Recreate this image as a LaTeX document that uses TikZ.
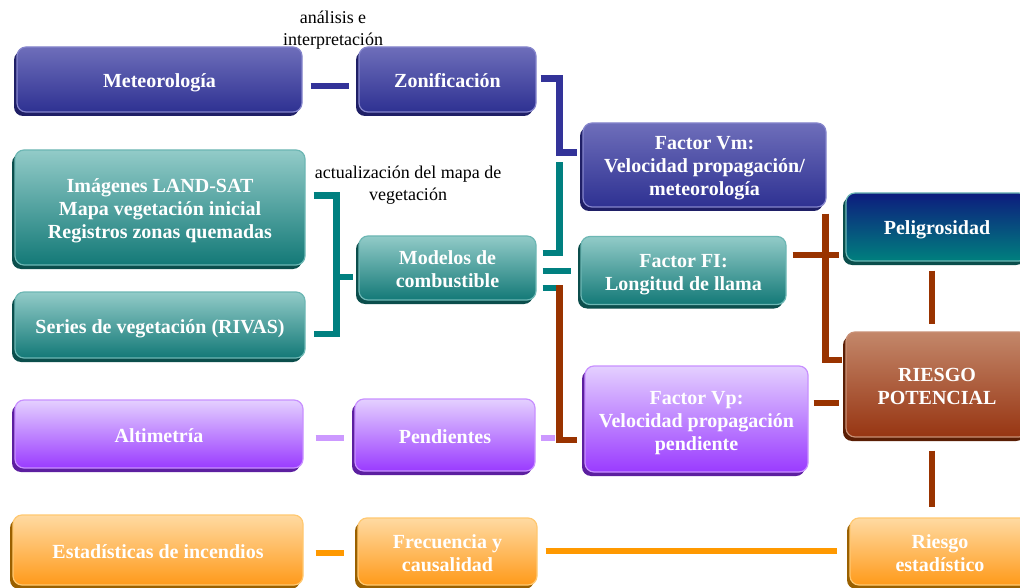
\documentclass[tikz,border=0pt]{standalone}
\usepackage{fontspec}
\setmainfont{Liberation Serif}
\usetikzlibrary{calc,shadows}

% palette
\definecolor{navyTop}{HTML}{6E6EBA}
\definecolor{navyBot}{HTML}{2E3192}
\definecolor{navyShd}{HTML}{1F1F66}
\definecolor{navyEdge}{HTML}{8585CC}
\definecolor{tealTop}{HTML}{92CBC8}
\definecolor{tealBot}{HTML}{137977}
\definecolor{tealShd}{HTML}{0B4E4C}
\definecolor{tealEdge}{HTML}{6DB7B4}
\definecolor{pelTop}{HTML}{0D1C7E}
\definecolor{pelBot}{HTML}{00807E}
\definecolor{rustTop}{HTML}{C3876A}
\definecolor{rustBot}{HTML}{973512}
\definecolor{rustShd}{HTML}{5A1E05}
\definecolor{rustEdge}{HTML}{C99075}
\definecolor{lilTop}{HTML}{E4D0FF}
\definecolor{lilBot}{HTML}{9A3BFF}
\definecolor{lilShd}{HTML}{5C1FA0}
\definecolor{lilEdge}{HTML}{C890FF}
\definecolor{orTop}{HTML}{FFDAA2}
\definecolor{orBot}{HTML}{FF9A1A}
\definecolor{orShd}{HTML}{9A6000}
\definecolor{orEdge}{HTML}{FFC870}
% connector colours
\definecolor{navyLine}{HTML}{333399}
\definecolor{tealLine}{HTML}{008080}
\definecolor{rustLine}{HTML}{993300}
\definecolor{lilLine}{HTML}{CC99FF}
\definecolor{orLine}{HTML}{FF9900}

\newcommand\cardfont{\fontsize{20}{23}\selectfont\bfseries}
\newcommand\notefont{\fontsize{18}{22}\selectfont}
% card text framed by fixed struts, so every block sits the same way in its box
\newcommand\cardtext[1]{\rule{0pt}{21pt}#1\rule[-5pt]{0pt}{5pt}}

\tikzset{
  card/.style n args={4}{rectangle, rounded corners=9pt,
    top color=#1, bottom color=#2, draw=#4, line width=1.2pt,
    drop shadow={shadow xshift=-3pt, shadow yshift=-4pt, fill=#3, opacity=1},
    text=white, font=\cardfont, align=center, inner sep=0pt},
  navycard/.style={card={navyTop}{navyBot}{navyShd}{navyEdge}},
  tealcard/.style={card={tealTop}{tealBot}{tealShd}{tealEdge}},
  pelcard/.style={card={pelTop}{pelBot}{tealShd}{tealEdge}},
  rustcard/.style={card={rustTop}{rustBot}{rustShd}{rustEdge}},
  lilcard/.style={card={lilTop}{lilBot}{lilShd}{lilEdge}},
  orcard/.style={card={orTop}{orBot}{orShd}{orEdge}},
  bar/.style={line width=6.5pt, line cap=butt, line join=miter},
  note/.style={font=\notefont, align=center, inner sep=0pt, text=black},
}

\begin{document}
\begin{tikzpicture}[x=1pt, y=-1pt]
\fill[white] (0,0) rectangle (1020,588);
\useasboundingbox (0,0) rectangle (1020,588);
\clip (0,0) rectangle (1020,588);

% boxes
\node[navycard, minimum width=285pt, minimum height=65pt] (met) at (159.5,79.5) {\cardtext{Meteorología}};
\node[navycard, minimum width=177pt, minimum height=65pt] (zon) at (447.5,79.5) {\cardtext{Zonificación}};
\node[navycard, minimum width=243pt, minimum height=84pt] (vm) at (704.5,165) {\cardtext{Factor Vm:\\Velocidad propagación/\\meteorología}};

\node[tealcard, minimum width=290pt, minimum height=115pt] (land) at (160,207.5) {\cardtext{Imágenes LAND-SAT\\Mapa vegetación inicial\\Registros zonas quemadas}};
\node[tealcard, minimum width=290pt, minimum height=66pt] (series) at (160,325) {\cardtext{Series de vegetación (RIVAS)}};
\node[tealcard, minimum width=177pt, minimum height=64pt] (mod) at (447.5,268) {\cardtext{Modelos de\\combustible}};
\node[tealcard, minimum width=205pt, minimum height=68pt] (fi) at (683.5,270.5) {\cardtext{Factor FI:\\Longitud de llama}};

\node[pelcard, minimum width=182pt, minimum height=68pt] (pel) at (937,227) {\cardtext{Peligrosidad}};
\node[rustcard, minimum width=182pt, minimum height=105pt] (rp) at (937,384.5) {\cardtext{RIESGO\\POTENCIAL}};

\node[lilcard, minimum width=288pt, minimum height=68pt] (alt) at (159,434) {\cardtext{Altimetría}};
\node[lilcard, minimum width=180pt, minimum height=72pt] (pen) at (445,435) {\cardtext{Pendientes}};
\node[lilcard, minimum width=223pt, minimum height=106pt] (vp) at (696.5,419) {\cardtext{Factor Vp:\\Velocidad propagación\\pendiente}};

\node[orcard, minimum width=290pt, minimum height=70pt] (est) at (158,550) {\cardtext{Estadísticas de incendios}};
\node[orcard, minimum width=179pt, minimum height=67pt] (frec) at (447.5,551.5) {\cardtext{Frecuencia y\\causalidad}};
\node[orcard, minimum width=180pt, minimum height=67pt] (rest) at (940,551.5) {\cardtext{Riesgo\\estadístico}};

% annotations
\node[note] (lab1) at (333,30) {análisis e\\interpretación};
\node[note] (lab2) at (408,185) {actualización del mapa de\\vegetación};

% navy connectors
\draw[bar, navyLine] ($(met.east)+(8,6.5)$) -- ($(zon.west)+(-9,6.5)$);
\draw[bar, navyLine] ($(zon.east)+(4,-1)$) -| ($(vm.west)+(-23,-12.5)$) -- ($(vm.west)+(-5,-12.5)$);

% teal connectors
\draw[bar, tealLine] ($(land.east)+(8,-12)$) -- ++(23,0) |- ($(series.east)+(8,9)$);
\draw[bar, tealLine] ($(mod.west)+(-23,9)$) -- ($(mod.west)+(-5,9)$);
\draw[bar, tealLine] ($(mod.east)+(6,-15)$) -| ($(vm.west)+(-23,-3)$);
\draw[bar, tealLine] ($(mod.east)+(6,3)$) -- ($(fi.west)+(-9,0.5)$);
\draw[bar, tealLine] ($(mod.east)+(6,20)$) -- ($(mod.east)+(22,20)$);

% rust connectors
\draw[bar, rustLine] ($(mod.east)+(23,17)$) |- ($(vp.west)+(-7,21)$);
\draw[bar, rustLine] ($(fi.east)+(6,-15.5)$) -- ($(pel.west)+(-6,28)$);
\draw[bar, rustLine] ($(vm.south east)+(-1,6)$) |- ($(rp.west)+(-3,-24.5)$);
\draw[bar, rustLine] ($(pel.south)+(-5,9)$) -- ($(rp.north)+(-5,-7)$);
\draw[bar, rustLine] ($(vp.east)+(5,-16)$) -- ($(rp.west)+(-6,18.5)$);
\draw[bar, rustLine] ($(rp.south)+(-5,13)$) -- ($(rest.north)+(-8,-10)$);

% lilac connectors
\draw[bar, lilLine] ($(alt.east)+(12,4)$) -- ($(pen.west)+(-10,3)$);
\draw[bar, lilLine] ($(pen.east)+(5,3)$) -- ($(vp.west)+(-29,19)$);

% orange connectors
\draw[bar, orLine] ($(est.east)+(12,3)$) -- ($(frec.west)+(-13,1.5)$);
\draw[bar, orLine] ($(frec.east)+(8,-0.5)$) -- ($(rest.west)+(-12,-0.5)$);
\end{tikzpicture}
\end{document}
